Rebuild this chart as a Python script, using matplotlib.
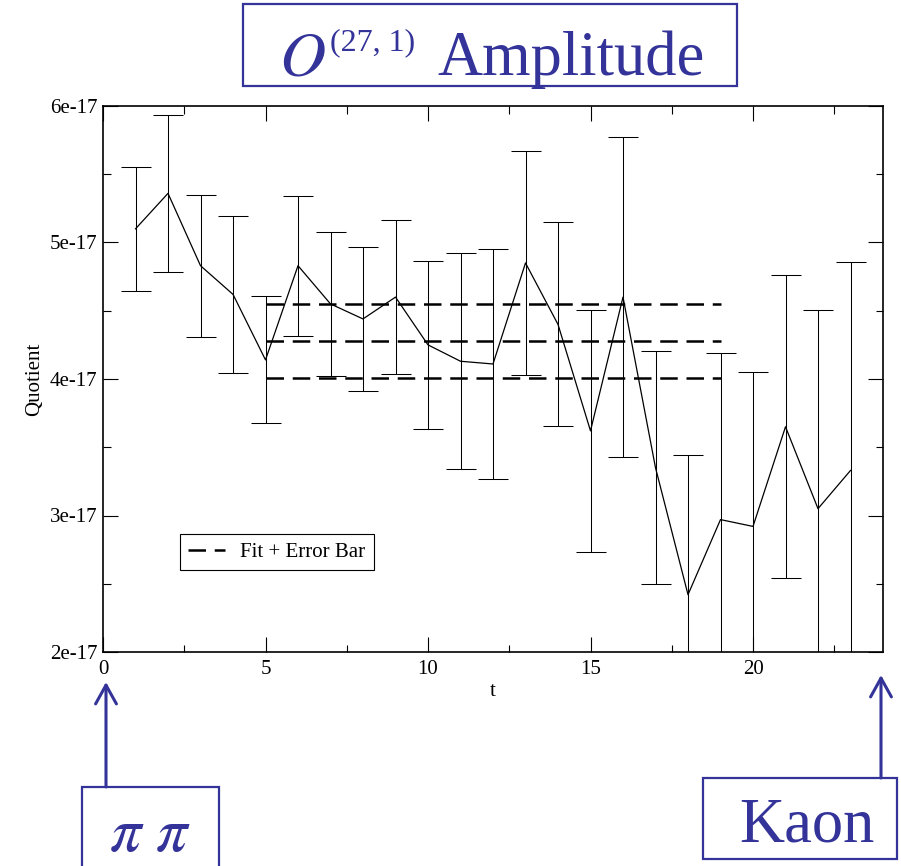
import matplotlib
matplotlib.use("Agg")
import matplotlib.pyplot as plt
from matplotlib.patches import Rectangle, FancyArrowPatch
from matplotlib.ticker import MultipleLocator, FuncFormatter

plt.rcParams['font.family'] = ['Liberation Serif', 'DejaVu Serif']
plt.rcParams['mathtext.fontset'] = 'stix'

# data (quotient in units of 1e-17)
t_vals = [1, 2, 3, 4, 5, 6, 7, 8, 9, 10, 11, 12, 13, 14, 15, 16, 17, 18, 19, 20, 21, 22, 23]
quotient = [5.10, 5.36, 4.83, 4.62, 4.14, 4.83, 4.55, 4.44, 4.60, 4.25, 4.13, 4.11,
            4.85, 4.40, 3.62, 4.60, 3.35, 2.42, 2.97, 2.92, 3.65, 3.05, 3.33]
errors = [0.456, 0.576, 0.521, 0.573, 0.465, 0.514, 0.529, 0.525, 0.566, 0.613, 0.79, 0.84,
          0.822, 0.747, 0.885, 1.17, 0.855, 1.026, 1.218, 1.133, 1.11, 1.457, 1.53]
fit_range = [5, 19]
fit_value = 4.276
fit_error = 0.271
scale = 1e-17

blue = '#333399'
W, H = 901, 866

fig = plt.figure(figsize=(W / 100, H / 100), dpi=100)
ax = fig.add_axes([103 / W, 1 - 652 / H, 780 / W, 546 / H])

y = [q * scale for q in quotient]
yerr = [e * scale for e in errors]
ax.errorbar(t_vals, y, yerr=yerr, color='black', lw=0.9, elinewidth=0.75,
            capsize=10.5, capthick=0.75)

dash = (0, (7, 3.5))
for k, v in enumerate([fit_value - fit_error, fit_value, fit_value + fit_error]):
    ax.plot(fit_range, [v * scale, v * scale], color='black', lw=1.8, linestyle=dash,
            label='Fit + Error Bar' if k == 0 else None)

ax.set_xlim(0, 24)
ax.set_ylim(2e-17, 6e-17)
ax.xaxis.set_major_locator(MultipleLocator(5))
ax.xaxis.set_minor_locator(MultipleLocator(2.5))
ax.yaxis.set_major_locator(MultipleLocator(1e-17))
ax.yaxis.set_minor_locator(MultipleLocator(0.5e-17))
ax.yaxis.set_major_formatter(FuncFormatter(lambda v, p: '%de-17' % round(v / scale)))
ax.tick_params(which='both', direction='in', top=True, right=True, labelsize=15, width=0.8)
ax.tick_params(which='major', length=10.8)
ax.tick_params(which='minor', length=5.4)
ax.tick_params(axis='x', pad=6)
ax.tick_params(axis='y', pad=4)
for s in ax.spines.values():
    s.set_linewidth(1.2)

ax.set_xlabel('t', fontsize=15, labelpad=2)
ax.set_ylabel('Quotient', fontsize=15, labelpad=4)

leg = ax.legend(loc='upper left', bbox_to_anchor=((180 - 103) / 780, (652 - 534) / 546),
                fontsize=15, fancybox=False, edgecolor='black', framealpha=1,
                handlelength=1.75, handletextpad=0.75, borderpad=0.4, borderaxespad=0)
leg.get_frame().set_linewidth(0.8)


def fx(px):
    return px / W


def fy(py):
    return 1 - py / H


# title box
fig.patches.append(Rectangle((fx(243), fy(86)), (737 - 243) / W, 82 / H, transform=fig.transFigure,
                             fill=False, edgecolor=blue, lw=1.6))
fig.text(fx(279), fy(75), r'$O$', color=blue, fontsize=46, ha='left', va='baseline')
fig.text(fx(330), fy(50), '(27, 1)', color=blue, fontsize=23, ha='left', va='baseline')
fig.text(fx(437), fy(75), 'Amplitude', color=blue, fontsize=45, ha='left', va='baseline')

# pi pi box
fig.patches.append(Rectangle((fx(82), fy(880)), (219 - 82) / W, (880 - 787) / H,
                             transform=fig.transFigure, fill=False, edgecolor=blue, lw=1.6))
fig.text(fx(150), fy(851), r'$\pi\ \pi$', color=blue, fontsize=45, ha='center', va='baseline')

# Kaon box
fig.patches.append(Rectangle((fx(703), fy(859)), (897 - 703) / W, (859 - 778) / H,
                             transform=fig.transFigure, fill=False, edgecolor=blue, lw=1.6))
fig.text(fx(807), fy(841), 'Kaon', color=blue, fontsize=45, ha='center', va='baseline')

for x0, y0, y1 in [(106, 787, 682), (881, 778, 675)]:
    fig.patches.append(FancyArrowPatch((fx(x0), fy(y0)), (fx(x0), fy(y1)),
                                       transform=fig.transFigure, color=blue, lw=2.2,
                                       arrowstyle='->,head_length=0.9,head_width=0.5',
                                       mutation_scale=15, shrinkA=0, shrinkB=0))

fig.savefig('out.png', dpi=100)
